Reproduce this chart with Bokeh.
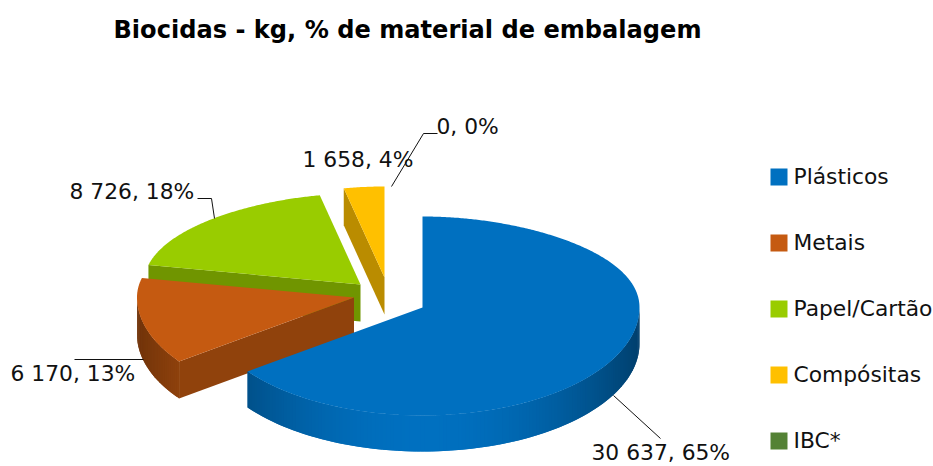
import math
from bokeh.plotting import figure
from bokeh.embed import file_html
from bokeh.resources import INLINE
from bokeh.core.properties import value

TITLE = "Biocidas - kg, % de material de embalagem"
categories = ["Plásticos", "Metais", "Papel/Cartão", "Compósitas", "IBC*"]
values = [30637, 6170, 8726, 1658, 0]
colors = ["#0070C0", "#C55A11", "#99CC00", "#FFC000", "#548235"]

# layout (screen pixels)
W, H = 933, 466
CENTER = (390, 294)
EXPLODE = [(32, 13), (-36.5, 3), (-30, -10), (-6, -17)]
RX, RY_FRONT, RY_BACK_LOSS = 217, 108, 17
DEPTHS = [36, 37, 37, 37]
FONT = value("DejaVu Sans")

LABEL_POS = [(591, 452), (10, 373), (69, 191), (302, 159), (436, 126)]
LEADERS = [
    [(613, 395), (660, 438)],
    [(74, 359), (143, 359)],
    [(197, 198), (211, 198), (214, 218)],
    [(391, 186), (423, 133), (437, 133)],
]


def shade(hex_color, f):
    r, g, b = (int(hex_color[i:i + 2], 16) for i in (1, 3, 5))
    return "#%02x%02x%02x" % (round(r * f), round(g * f), round(b * f))


def rim(deg, ax, ay):
    t = math.radians(deg)
    s, c = math.sin(t), math.cos(t)
    if c > 0:
        return ax + RX * s * (1 - 0.15 * c * c), ay - c * (RY_FRONT - RY_BACK_LOSS * c)
    return ax + RX * s, ay - c * RY_FRONT


total = sum(values)
p = figure(width=W, height=H, x_range=(0, W), y_range=(H, 0),
           output_backend="svg", toolbar_location=None, min_border=0)
p.axis.visible = False
p.grid.visible = False
p.outline_line_color = None
p.background_fill_color = "white"
p.border_fill_color = "white"

# angular extent of each slice, clockwise from 12 o'clock
spans, cum = [], 0.0
for v in values:
    spans.append((cum, cum + 360 * v / total))
    cum += 360 * v / total

xs, ys, fills = [], [], []


def add(pts, col):
    xs.append([q[0] for q in pts])
    ys.append([q[1] for q in pts])
    fills.append(col)


for i in (3, 2, 1, 0):
    a, b = spans[i]
    col = colors[i]
    dep = DEPTHS[i]
    ax, ay = CENTER[0] + EXPLODE[i][0], CENTER[1] + EXPLODE[i][1]
    # cut face at the start edge, if it faces the viewer
    if math.cos(math.radians(a - 90)) < -1e-6:
        e = rim(a, ax, ay)
        add([(ax, ay), e, (e[0], e[1] + dep), (ax, ay + dep)], shade(col, 0.73))
    # outer wall, front half only; strips overlap so no seams show
    n = max(1, int(b - a))
    step = (b - a) / n
    for k in range(n):
        d0 = a + step * k
        d1 = d0 + step
        mid = math.radians((d0 + d1) / 2)
        if math.cos(mid) >= 0:
            continue
        f = 1 - 0.43 * math.sin(mid) ** 2
        e0, e1 = rim(d0, ax, ay), rim(min(b, d1 + step), ax, ay)
        add([e0, e1, (e1[0], e1[1] + dep), (e0[0], e0[1] + dep)], shade(col, f))
    # top face
    pts = [(ax, ay)]
    for k in range(2 * n + 1):
        pts.append(rim(a + (b - a) * k / (2 * n), ax, ay))
    add(pts, col)

p.patches(xs, ys, fill_color=fills, line_color=None)

p.multi_line([[q[0] for q in l] for l in LEADERS], [[q[1] for q in l] for l in LEADERS],
             line_color="#111111", line_width=1)

labels = ["{}, {}%".format(format(v, ",").replace(",", " "), round(100 * v / total)) for v in values]
p.text([q[0] for q in LABEL_POS], [q[1] for q in LABEL_POS], text=labels,
       text_font=FONT, text_font_size="21.8px", text_color="#111111",
       text_baseline="middle", text_align="left")

p.text([113], [29], text=[TITLE], text_font=FONT, text_font_size="24.1px",
       text_font_style="bold", text_color="#000000",
       text_baseline="middle", text_align="left")

# legend
leg_top = [168 + 66 * i for i in range(len(categories))]
p.quad(left=[770] * 5, right=[787] * 5, top=leg_top, bottom=[t + 17 for t in leg_top],
       fill_color=colors, line_color=None)
p.text([793] * 5, [t + 8 for t in leg_top], text=categories, text_font=FONT,
       text_font_size="21.8px", text_color="#111111", text_baseline="middle",
       text_align="left")

open("out.html", "w").write(file_html(p, INLINE))
